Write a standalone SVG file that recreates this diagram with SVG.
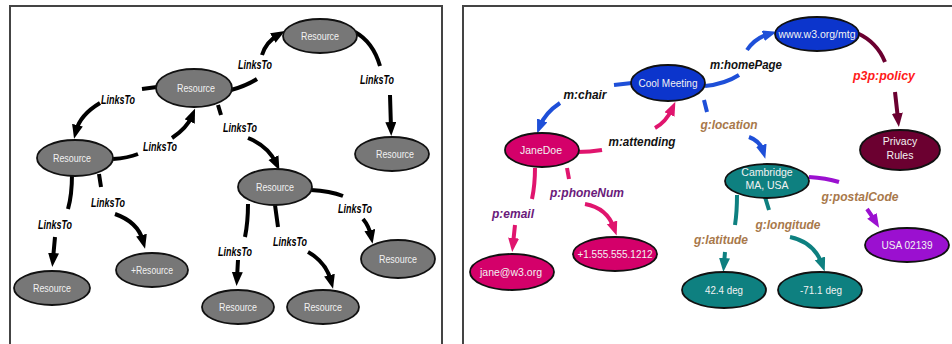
<svg xmlns="http://www.w3.org/2000/svg" width="952" height="344" viewBox="0 0 952 344">
  <style>
    .frame { fill: none; stroke: #444; stroke-width: 2; }
    .res { fill: #777; stroke: #111; stroke-width: 1.8; }
    .node { stroke: #111; stroke-width: 1.8; }
    .ntxt { font-family: "Liberation Sans", Arial, sans-serif; font-size: 10.5px; fill: #f2f2f2; text-anchor: middle; }
    .lbl { font-family: "Liberation Sans", Arial, sans-serif; font-size: 12px; font-weight: bold; font-style: italic; text-anchor: middle; }
    .e { fill: none; stroke-width: 4; }
    .k { stroke: #000; }
    .blue { stroke: #1e4fd8; }
    .pink { stroke: #e0156e; }
    .teal { stroke: #0e8080; }
    .purple { stroke: #9b10d0; }
    .maroon { stroke: #6b0030; }
  </style>
  <defs>
    <marker id="ak" markerUnits="userSpaceOnUse" markerWidth="15" markerHeight="12" refX="6" refY="5.5" orient="auto"><path d="M0,0 L14,5.5 L0,11 z" fill="#000"/></marker>
    <marker id="ab" markerUnits="userSpaceOnUse" markerWidth="15" markerHeight="12" refX="6" refY="5.5" orient="auto"><path d="M0,0 L14,5.5 L0,11 z" fill="#1e4fd8"/></marker>
    <marker id="ap" markerUnits="userSpaceOnUse" markerWidth="15" markerHeight="12" refX="6" refY="5.5" orient="auto"><path d="M0,0 L14,5.5 L0,11 z" fill="#e0156e"/></marker>
    <marker id="at" markerUnits="userSpaceOnUse" markerWidth="15" markerHeight="12" refX="6" refY="5.5" orient="auto"><path d="M0,0 L14,5.5 L0,11 z" fill="#0e8080"/></marker>
    <marker id="au" markerUnits="userSpaceOnUse" markerWidth="15" markerHeight="12" refX="6" refY="5.5" orient="auto"><path d="M0,0 L14,5.5 L0,11 z" fill="#9b10d0"/></marker>
    <marker id="am" markerUnits="userSpaceOnUse" markerWidth="15" markerHeight="12" refX="6" refY="5.5" orient="auto"><path d="M0,0 L14,5.5 L0,11 z" fill="#6b0030"/></marker>
  </defs>

  <rect width="952" height="344" fill="#fff"/>

  <!-- panel frames -->
  <path class="frame" d="M10,344 V6 H442 V344"/>
  <path class="frame" d="M463,344 V6 H952"/>

  <!-- connectors: each edge is a stub from the source and a tail into the target -->
  <g id="connectors">
    <path class="e k" marker-end="url(#ak)" d="M231,90 Q246,86 257,79 M262,55 Q266,42 278,35"/>
    <path class="e k" marker-end="url(#ak)" d="M157,87 L142,89 M100,103 Q80,115 76,131"/>
    <path class="e k" marker-end="url(#ak)" d="M113,159 Q128,158 138,154 M172,138 Q187,128 192,116"/>
    <path class="e k" marker-end="url(#ak)" d="M218,105 L221,115 M248,138 Q268,146 276,163"/>
    <path class="e k" marker-end="url(#ak)" d="M355,32 Q373,42 380,66 M390,95 L391,128"/>
    <path class="e k" marker-end="url(#ak)" d="M72,174 Q72,195 68,209 M55,237 L53,259"/>
    <path class="e k" marker-end="url(#ak)" d="M99,174 L101,187 M115,214 Q138,222 143,241"/>
    <path class="e k" marker-end="url(#ak)" d="M248,204 Q248,222 245,237 M238,260 L237,278"/>
    <path class="e k" marker-end="url(#ak)" d="M275,205 L278,227 M308,252 Q326,262 331,281"/>
    <path class="e k" marker-end="url(#ak)" d="M311,190 Q330,191 343,196 M363,219 Q369,226 371,236"/>

    <path class="e blue" marker-end="url(#ab)" d="M705,86 Q725,84 739,75 M747,50 Q755,38 769,34"/>
    <path class="e blue" marker-end="url(#ab)" d="M632,83 L614,85 M560,103 Q545,113 540,126"/>
    <path class="e pink" marker-end="url(#ap)" d="M577,152 Q590,152 602,150 M655,128 Q666,122 672,109"/>
    <path class="e blue" marker-end="url(#ab)" d="M704,100 L707,112 M749,137 Q760,141 763,151"/>
    <path class="e maroon" marker-end="url(#am)" d="M857,33 Q877,42 885,62 M895,92 L898,119"/>
    <path class="e pink" marker-end="url(#ap)" d="M535,168 Q535,185 532,199 M515,225 L513,244"/>
    <path class="e pink" marker-end="url(#ap)" d="M567,168 L569,179 M585,204 Q607,208 614,228"/>
    <path class="e purple" marker-end="url(#au)" d="M809,177 Q826,178 839,182 M867,209 Q872,216 875,221"/>
    <path class="e teal" marker-end="url(#at)" d="M737,195 Q737,212 735,225 M725,252 L724,264"/>
    <path class="e teal" marker-end="url(#at)" d="M765,197 L769,210 M790,237 Q814,242 822,264"/>
  </g>

  <!-- edge labels -->
  <g id="edge-labels">
    <text class="lbl" x="255" y="69" textLength="34" lengthAdjust="spacingAndGlyphs">LinksTo</text>
    <text class="lbl" x="118" y="104" textLength="34" lengthAdjust="spacingAndGlyphs">LinksTo</text>
    <text class="lbl" x="160" y="151" textLength="34" lengthAdjust="spacingAndGlyphs">LinksTo</text>
    <text class="lbl" x="240" y="132" textLength="34" lengthAdjust="spacingAndGlyphs">LinksTo</text>
    <text class="lbl" x="377" y="84" textLength="34" lengthAdjust="spacingAndGlyphs">LinksTo</text>
    <text class="lbl" x="55" y="229" textLength="34" lengthAdjust="spacingAndGlyphs">LinksTo</text>
    <text class="lbl" x="108" y="207" textLength="34" lengthAdjust="spacingAndGlyphs">LinksTo</text>
    <text class="lbl" x="235" y="256" textLength="34" lengthAdjust="spacingAndGlyphs">LinksTo</text>
    <text class="lbl" x="290" y="246" textLength="34" lengthAdjust="spacingAndGlyphs">LinksTo</text>
    <text class="lbl" x="355" y="213" textLength="34" lengthAdjust="spacingAndGlyphs">LinksTo</text>

    <text class="lbl" x="746" y="69" fill="#111" textLength="72" lengthAdjust="spacingAndGlyphs">m:homePage</text>
    <text class="lbl" x="585" y="99" fill="#111" textLength="43" lengthAdjust="spacingAndGlyphs">m:chair</text>
    <text class="lbl" x="642" y="146" fill="#111" textLength="67" lengthAdjust="spacingAndGlyphs">m:attending</text>
    <text class="lbl" x="729" y="129" fill="#a8784a" textLength="57" lengthAdjust="spacingAndGlyphs">g:location</text>
    <text class="lbl" x="884" y="80" fill="#ff1a1a" textLength="62" lengthAdjust="spacingAndGlyphs">p3p:policy</text>
    <text class="lbl" x="513" y="218" fill="#6a1a7a" textLength="42" lengthAdjust="spacingAndGlyphs">p:email</text>
    <text class="lbl" x="587" y="197" fill="#6a1a7a" textLength="74" lengthAdjust="spacingAndGlyphs">p:phoneNum</text>
    <text class="lbl" x="860" y="201" fill="#a8784a" textLength="77" lengthAdjust="spacingAndGlyphs">g:postalCode</text>
    <text class="lbl" x="788" y="229" fill="#a8784a" textLength="65" lengthAdjust="spacingAndGlyphs">g:longitude</text>
    <text class="lbl" x="721" y="244" fill="#a8784a" textLength="54" lengthAdjust="spacingAndGlyphs">g:latitude</text>
  </g>

  <!-- generic web of resources -->
  <g id="res-top"><ellipse class="res" cx="320" cy="36" rx="37" ry="17"/><text class="ntxt" x="320" y="40" textLength="38" lengthAdjust="spacingAndGlyphs">Resource</text></g>
  <g id="res-mid"><ellipse class="res" cx="194" cy="88" rx="38" ry="19"/><text class="ntxt" x="196" y="92" textLength="38" lengthAdjust="spacingAndGlyphs">Resource</text></g>
  <g id="res-left"><ellipse class="res" cx="75" cy="158" rx="38" ry="18"/><text class="ntxt" x="72" y="162" textLength="38" lengthAdjust="spacingAndGlyphs">Resource</text></g>
  <g id="res-right"><ellipse class="res" cx="392" cy="154" rx="37" ry="17"/><text class="ntxt" x="395" y="158" textLength="38" lengthAdjust="spacingAndGlyphs">Resource</text></g>
  <g id="res-center"><ellipse class="res" cx="275" cy="187" rx="37" ry="18"/><text class="ntxt" x="275" y="191" textLength="38" lengthAdjust="spacingAndGlyphs">Resource</text></g>
  <g id="res-bl"><ellipse class="res" cx="52" cy="288" rx="38" ry="17"/><text class="ntxt" x="52" y="292" textLength="38" lengthAdjust="spacingAndGlyphs">Resource</text></g>
  <g id="res-plus"><ellipse class="res" cx="152" cy="270" rx="36" ry="17"/><text class="ntxt" x="152" y="274" textLength="42" lengthAdjust="spacingAndGlyphs">+Resource</text></g>
  <g id="res-b1"><ellipse class="res" cx="238" cy="307" rx="36" ry="17"/><text class="ntxt" x="238" y="311" textLength="38" lengthAdjust="spacingAndGlyphs">Resource</text></g>
  <g id="res-b2"><ellipse class="res" cx="323" cy="307" rx="36" ry="17"/><text class="ntxt" x="323" y="311" textLength="38" lengthAdjust="spacingAndGlyphs">Resource</text></g>
  <g id="res-br"><ellipse class="res" cx="398" cy="259" rx="37" ry="19"/><text class="ntxt" x="398" y="263" textLength="38" lengthAdjust="spacingAndGlyphs">Resource</text></g>

  <!-- meeting description -->
  <g id="homepage"><ellipse class="node" cx="817" cy="34" rx="42" ry="17" fill="#0c35cc"/><text class="ntxt" x="817" y="38" textLength="77" lengthAdjust="spacingAndGlyphs">www.w3.org/mtg</text></g>
  <g id="cool-meeting"><ellipse class="node" cx="668" cy="83" rx="37" ry="18" fill="#0c35cc"/><text class="ntxt" x="668" y="87" textLength="59" lengthAdjust="spacingAndGlyphs">Cool Meeting</text></g>
  <g id="janedoe"><ellipse class="node" cx="542" cy="150" rx="37" ry="17" fill="#d4006a"/><text class="ntxt" x="541" y="154" textLength="42" lengthAdjust="spacingAndGlyphs">JaneDoe</text></g>
  <g id="privacy"><ellipse class="node" cx="900" cy="150" rx="40" ry="20" fill="#6b0030"/><text class="ntxt" x="900" y="145">Privacy</text><text class="ntxt" x="900" y="159">Rules</text></g>
  <g id="cambridge"><ellipse class="node" cx="767" cy="181" rx="42" ry="17" fill="#0e8080"/><text class="ntxt" x="767" y="176">Cambridge</text><text class="ntxt" x="767" y="189">MA, USA</text></g>
  <g id="email"><ellipse class="node" cx="512" cy="272" rx="42" ry="18" fill="#d4006a"/><text class="ntxt" x="511" y="276" textLength="62" lengthAdjust="spacingAndGlyphs">jane@w3.org</text></g>
  <g id="phone"><ellipse class="node" cx="615" cy="254" rx="42" ry="17" fill="#d4006a"/><text class="ntxt" x="615" y="258" textLength="75" lengthAdjust="spacingAndGlyphs">+1.555.555.1212</text></g>
  <g id="latitude"><ellipse class="node" cx="724" cy="290" rx="42" ry="18" fill="#0e8080"/><text class="ntxt" x="724" y="294" textLength="38" lengthAdjust="spacingAndGlyphs">42.4 deg</text></g>
  <g id="longitude"><ellipse class="node" cx="820" cy="290" rx="42" ry="18" fill="#0e8080"/><text class="ntxt" x="821" y="294" textLength="42" lengthAdjust="spacingAndGlyphs">-71.1 deg</text></g>
  <g id="postal"><ellipse class="node" cx="907" cy="245" rx="42" ry="17" fill="#9b10d0"/><text class="ntxt" x="907" y="249" textLength="51" lengthAdjust="spacingAndGlyphs">USA 02139</text></g>
</svg>
